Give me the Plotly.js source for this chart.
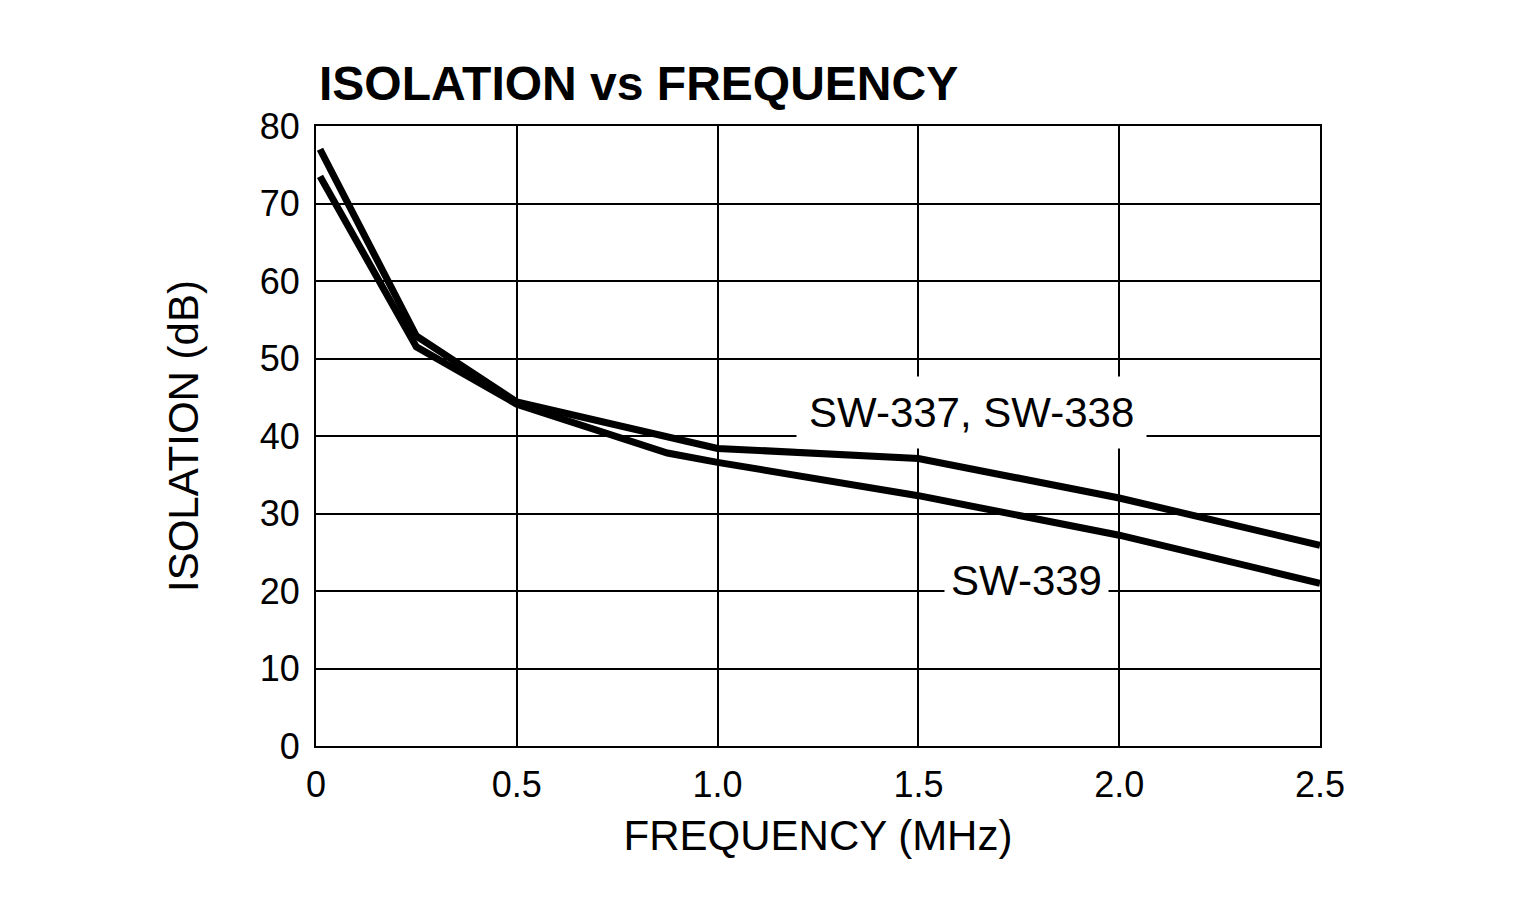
<!DOCTYPE html>
<html>
<head>
<meta charset="utf-8">
<script src="https://cdn.plot.ly/plotly-3.0.1.min.js"></script>
<style>
  html, body { margin: 0; padding: 0; background: #fff; }
  #chart { width: 1521px; height: 909px; }
</style>
</head>
<body>
<div id="chart"></div>
<script>
// values
let freq_337 = [0.01, 0.25, 0.5, 1.0, 1.5, 2.0, 2.5];
let iso_337 = [77.0, 52.9, 44.4, 38.4, 37.1, 32.0, 25.9];

let freq_339 = [0.01, 0.25, 0.5, 0.75, 0.875, 1.0, 1.5, 2.0, 2.5];
let iso_339 = [73.5, 51.5, 44.1, 39.8, 37.8, 36.6, 32.3, 27.2, 21.0];

let x_ticks = [0, 0.5, 1.0, 1.5, 2.0, 2.5];
let x_labels = ["0", "0.5", "1.0", "1.5", "2.0", "2.5"];
let y_ticks = [0, 10, 20, 30, 40, 50, 60, 70, 80];

let font = "Liberation Sans, Arial, sans-serif";

let sw337 = {
  x: freq_337,
  y: iso_337,
  mode: "lines",
  line: {color: "#000", width: 7},
  name: "SW-337, SW-338",
  type: "scatter",
};

let sw339 = {
  x: freq_339,
  y: iso_339,
  mode: "lines",
  line: {color: "#000", width: 7},
  name: "SW-339",
  type: "scatter",
};

let axis_common = {
  showgrid: true,
  gridcolor: "#000",
  gridwidth: 2,
  showline: true,
  linecolor: "#000",
  linewidth: 2,
  mirror: true,
  zeroline: false,
  ticks: "",
  tickfont: {family: font, size: 36, color: "#000"},
};

let layout = {
  width: 1521,
  height: 909,
  paper_bgcolor: "#fff",
  plot_bgcolor: "#fff",
  showlegend: false,
  margin: {l: 316, r: 201, t: 126, b: 163},
  title: {
    text: "<b>ISOLATION vs FREQUENCY</b>",
    font: {family: font, size: 48, color: "#000"},
    xref: "paper",
    x: 0.003,
    xanchor: "left",
    yref: "container",
    y: 0.908,
    yanchor: "middle",
  },
  xaxis: Object.assign({}, axis_common, {
    range: [0, 2.5],
    tickvals: x_ticks,
    ticktext: x_labels,
    ticklabelstandoff: 6,
    title: {text: "FREQUENCY (MHz)", font: {family: font, size: 42, color: "#000"}, standoff: 16},
  }),
  yaxis: Object.assign({}, axis_common, {
    range: [0, 80],
    tickvals: y_ticks,
    ticklabelstandoff: 7,
    title: {text: "ISOLATION (dB)", font: {family: font, size: 42, color: "#000"}, standoff: 48},
  }),
  annotations: [
    {
      x: 1.631, y: 43.0, xref: "x", yref: "y",
      text: "SW-337, SW-338",
      showarrow: false,
      font: {family: font, size: 42, color: "#000"},
      bgcolor: "#fff",
      borderpad: 12,
    },
    {
      x: 1.768, y: 21.3, xref: "x", yref: "y",
      text: "SW-339",
      showarrow: false,
      font: {family: font, size: 42, color: "#000"},
      bgcolor: "#fff",
      borderpad: 6,
    },
  ],
};

Plotly.newPlot("chart", [sw337, sw339], layout, {
  displaylogo: false,
  displayModeBar: false,
  responsive: false,
});
</script>
</body>
</html>
